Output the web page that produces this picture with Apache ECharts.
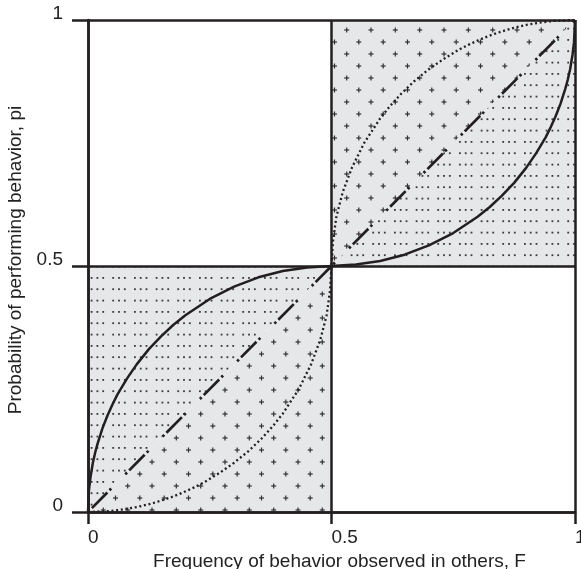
<!DOCTYPE html>
<html>
<head>
<meta charset="utf-8">
<script src="https://cdn.jsdelivr.net/npm/echarts@6/dist/echarts.min.js"></script>
<style>
  html, body { margin: 0; padding: 0; background: #fff; }
  #chart { width: 581px; height: 569px; }
</style>
</head>
<body>
<div id="chart"></div>
<script>
// axis ticks
const tickValues = [0, 0.5, 1];
const tickLabels = ['0', '0.5', '1'];

// solid curve
const solidF = [0, 0.002, 0.005, 0.01, 0.015, 0.02, 0.03, 0.04, 0.05, 0.06, 0.08, 0.1, 0.125, 0.15, 0.175, 0.2,
  0.25, 0.3, 0.35, 0.4, 0.45, 0.5, 0.55, 0.6, 0.65, 0.7, 0.75, 0.8, 0.825, 0.85, 0.875, 0.9, 0.92, 0.94,
  0.95, 0.96, 0.97, 0.98, 0.985, 0.99, 0.995, 0.998, 1];
const solidP = [0, 0.045, 0.07, 0.1, 0.122, 0.14, 0.171, 0.196, 0.218, 0.238, 0.271, 0.3, 0.331, 0.357, 0.38, 0.4,
  0.433, 0.458, 0.477, 0.49, 0.497, 0.5, 0.503, 0.51, 0.523, 0.542, 0.567, 0.6, 0.62, 0.643, 0.669, 0.7, 0.729, 0.762,
  0.782, 0.804, 0.829, 0.86, 0.878, 0.9, 0.93, 0.955, 1];

// dotted curve
const dottedF = [0, 0.045, 0.07, 0.1, 0.122, 0.14, 0.171, 0.196, 0.218, 0.238, 0.271, 0.3, 0.331, 0.357, 0.38, 0.4,
  0.433, 0.458, 0.477, 0.49, 0.497, 0.5, 0.503, 0.51, 0.523, 0.542, 0.567, 0.6, 0.62, 0.643, 0.669, 0.7, 0.729, 0.762,
  0.782, 0.804, 0.829, 0.86, 0.878, 0.9, 0.93, 0.955, 1];
const dottedP = [0, 0.002, 0.005, 0.01, 0.015, 0.02, 0.03, 0.04, 0.05, 0.06, 0.08, 0.1, 0.125, 0.15, 0.175, 0.2,
  0.25, 0.3, 0.35, 0.4, 0.45, 0.5, 0.55, 0.6, 0.65, 0.7, 0.75, 0.8, 0.825, 0.85, 0.875, 0.9, 0.92, 0.94,
  0.95, 0.96, 0.97, 0.98, 0.985, 0.99, 0.995, 0.998, 1];

// dash-dot diagonal
const diagF = [0, 1];
const diagP = [0, 1];

// shaded triangles (data coords) and their pattern
const regionPts = [
  [[0, 0], [0, 0.5], [0.5, 0.5]],
  [[0, 0], [0.5, 0], [0.5, 0.5]],
  [[0.5, 0.5], [0.5, 1], [1, 1]],
  [[0.5, 0.5], [1, 0.5], [1, 1]]
];
const regionKind = ['dots', 'plus', 'plus', 'dots'];

const ink = '#231f20';
const gray = '#e6e7e8';

function dotTile() {
  const c = document.createElement('canvas');
  c.width = 65; c.height = 34;
  const ctx = c.getContext('2d');
  ctx.fillStyle = gray;
  ctx.fillRect(0, 0, c.width, c.height);
  ctx.fillStyle = '#3a3a3a';
  [5, 16.3, 27.7].forEach(y => {
    [4, 25.7, 47.3].forEach(gx => {
      [0, 5.8, 11.6].forEach(dx => ctx.fillRect(gx + dx, y, 1.8, 1.8));
    });
  });
  return c;
}

function plusTile() {
  const c = document.createElement('canvas');
  c.width = 73; c.height = 24;
  const ctx = c.getContext('2d');
  ctx.fillStyle = gray;
  ctx.fillRect(0, 0, c.width, c.height);
  ctx.fillStyle = '#333';
  const plus = (x, y) => {
    ctx.fillRect(x - 2.5, y - 0.6, 5, 1.2);
    ctx.fillRect(x - 0.6, y - 2.5, 1.2, 5);
  };
  [6, 30.3, 54.7].forEach(x => plus(x, 6));
  [18.2, 42.5, 66.8].forEach(x => plus(x, 18));
  return c;
}

const patterns = {
  dots: { image: dotTile(), repeat: 'repeat' },
  plus: { image: plusTile(), repeat: 'repeat' }
};

const font = "'Liberation Sans', Arial, sans-serif";

const axisCommon = {
  type: 'value',
  min: 0,
  max: 1,
  interval: 0.5,
  axisLine: { show: true, lineStyle: { color: ink, width: 2.5 } },
  splitLine: { show: true, lineStyle: { color: ink, width: 2.5 } },
  nameLocation: 'middle'
};

const chart = echarts.init(document.getElementById('chart'));
chart.setOption({
  animation: false,
  grid: { left: 88, top: 20, right: 6, bottom: 57, containLabel: false, outerBoundsMode: 'none' },
  xAxis: Object.assign({}, axisCommon, {
    name: 'Frequency of behavior observed in others, F',
    nameGap: 32,
    nameTextStyle: { fontFamily: font, fontSize: 19, color: '#222', padding: [0, 0, 0, 16] },
    axisTick: { length: 12, lineStyle: { color: ink, width: 2.5 } },
    axisLabel: {
      align: 'left',
      margin: 16,
      fontFamily: font,
      fontSize: 19,
      color: '#222',
      formatter: v => tickLabels[tickValues.indexOf(v)]
    }
  }),
  yAxis: Object.assign({}, axisCommon, {
    name: 'Probability of performing behavior, pi',
    nameGap: 52,
    nameTextStyle: { fontFamily: font, fontSize: 19, color: '#222', padding: [0, 0, 0, 12] },
    axisTick: { length: 16, lineStyle: { color: ink, width: 2.5 } },
    axisLabel: {
      align: 'right',
      verticalAlign: 'bottom',
      lineHeight: 12,
      margin: 25,
      fontFamily: font,
      fontSize: 19,
      color: '#222',
      formatter: v => tickLabels[tickValues.indexOf(v)]
    }
  }),
  series: [
    {
      type: 'custom',
      z: -1,
      silent: true,
      data: regionPts.map((r, i) => i),
      renderItem: (params, api) => ({
        type: 'polygon',
        shape: { points: regionPts[params.dataIndex].map(p => api.coord(p)) },
        style: { fill: patterns[regionKind[params.dataIndex]] }
      })
    },
    {
      type: 'line',
      data: diagF.map((f, i) => [f, diagP[i]]),
      showSymbol: false,
      lineStyle: { color: ink, width: 2.7, type: [2.5, 3, 22, 3, 2.5, 20], cap: 'butt' }
    },
    {
      type: 'line',
      data: dottedF.map((f, i) => [f, dottedP[i]]),
      showSymbol: false,
      lineStyle: { color: ink, width: 2.3, type: [2, 2.7], cap: 'butt' }
    },
    {
      type: 'line',
      data: solidF.map((f, i) => [f, solidP[i]]),
      showSymbol: false,
      lineStyle: { color: ink, width: 2.5, join: 'round' }
    }
  ]
});
</script>
</body>
</html>
